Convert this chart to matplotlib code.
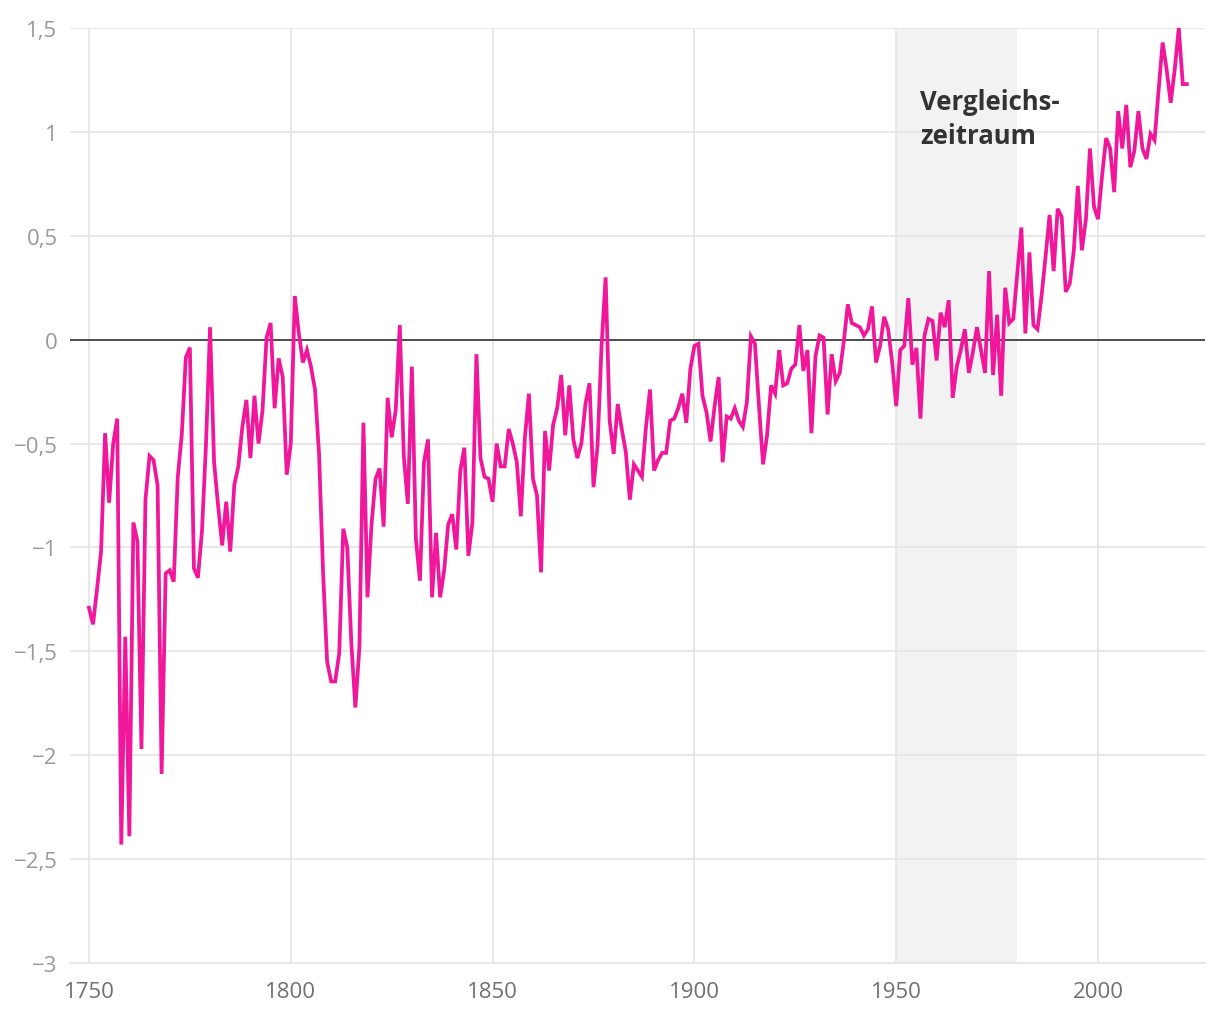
import matplotlib
matplotlib.use("Agg")
import matplotlib.pyplot as plt
import numpy as np

plt.rcParams['font.family'] = ['Open Sans', 'DejaVu Sans']

years = np.arange(1750, 2023)
anomaly = [
    -1.29, -1.37, -1.20, -1.02, -0.45, -0.785, -0.50, -0.38, -2.43, -1.43,   # 1750
    -2.39, -0.88, -0.97, -1.97, -0.77, -0.56, -0.58, -0.70, -2.09, -1.125,   # 1760
    -1.11, -1.165, -0.66, -0.455, -0.086, -0.038, -1.10, -1.146, -0.92, -0.50,  # 1770
    0.06, -0.59, -0.80, -0.99, -0.78, -1.02, -0.70, -0.61, -0.42, -0.29,     # 1780
    -0.57, -0.27, -0.50, -0.34, 0.01, 0.08, -0.33, -0.09, -0.18, -0.65,      # 1790
    -0.50, 0.21, 0.03, -0.11, -0.05, -0.13, -0.24, -0.55, -1.12, -1.55,      # 1800
    -1.645, -1.645, -1.51, -0.91, -1.00, -1.46, -1.77, -1.48, -0.40, -1.24,  # 1810
    -0.89, -0.67, -0.62, -0.90, -0.28, -0.47, -0.34, 0.07, -0.56, -0.79,     # 1820
    -0.13, -0.96, -1.16, -0.59, -0.48, -1.24, -0.93, -1.24, -1.11, -0.89,    # 1830
    -0.84, -1.01, -0.63, -0.52, -1.04, -0.88, -0.07, -0.57, -0.66, -0.67,    # 1840
    -0.78, -0.50, -0.61, -0.61, -0.43, -0.50, -0.59, -0.85, -0.47, -0.26,    # 1850
    -0.67, -0.75, -1.12, -0.44, -0.63, -0.41, -0.33, -0.17, -0.46, -0.22,    # 1860
    -0.48, -0.57, -0.50, -0.31, -0.21, -0.71, -0.51, -0.03, 0.30, -0.39,     # 1870
    -0.55, -0.31, -0.43, -0.54, -0.77, -0.60, -0.63, -0.66, -0.42, -0.24,    # 1880
    -0.63, -0.58, -0.545, -0.545, -0.39, -0.38, -0.33, -0.26, -0.40, -0.14,  # 1890
    -0.03, -0.02, -0.27, -0.35, -0.49, -0.32, -0.18, -0.59, -0.37, -0.38,    # 1900
    -0.33, -0.39, -0.42, -0.30, 0.016, -0.02, -0.32, -0.60, -0.46, -0.22,    # 1910
    -0.26, -0.05, -0.22, -0.21, -0.14, -0.12, 0.07, -0.15, -0.05, -0.45,     # 1920
    -0.08, 0.02, 0.01, -0.36, -0.07, -0.20, -0.16, -0.01, 0.17, 0.08,        # 1930
    0.07, 0.06, 0.02, 0.05, 0.16, -0.11, -0.03, 0.11, 0.05, -0.11,           # 1940
    -0.32, -0.05, -0.03, 0.20, -0.12, -0.04, -0.38, 0.02, 0.10, 0.09,        # 1950
    -0.10, 0.13, 0.06, 0.19, -0.28, -0.13, -0.05, 0.05, -0.16, -0.06,        # 1960
    0.06, -0.05, -0.16, 0.33, -0.17, 0.12, -0.27, 0.25, 0.08, 0.10,          # 1970
    0.32, 0.54, 0.03, 0.42, 0.07, 0.05, 0.21, 0.40, 0.60, 0.33,              # 1980
    0.63, 0.59, 0.23, 0.27, 0.43, 0.74, 0.43, 0.58, 0.92, 0.64,              # 1990
    0.58, 0.79, 0.97, 0.92, 0.71, 1.10, 0.92, 1.13, 0.83, 0.91,              # 2000
    1.10, 0.92, 0.87, 0.99, 0.96, 1.20, 1.43, 1.30, 1.14, 1.30,              # 2010
    1.50, 1.23, 1.23,                                                        # 2020
]

x_ticks = [1750, 1800, 1850, 1900, 1950, 2000]
y_ticks = [-3, -2.5, -2, -1.5, -1, -0.5, 0, 0.5, 1, 1.5]
ref_period = (1950, 1980)


def fmt_de(v):
    s = f'{v:g}'.replace('.', ',')
    return s.replace('-', '\u2212')


fig = plt.figure(figsize=(12.2, 10.2), dpi=100)
ax = fig.add_axes([70 / 1220, 1 - 964 / 1020, (1205 - 70) / 1220, (964 - 29) / 1020])

ax.axvspan(ref_period[0], ref_period[1], color='#f2f2f2', zorder=0, lw=0)
ax.axhline(0, color='#222222', lw=1.1, zorder=2)
ax.plot(years, anomaly, color='#f0179b', lw=2.7, zorder=3, clip_on=False,
        solid_joinstyle='miter')

ax.text(1955.9, 1.065, 'Vergleichs-\nzeitraum', fontsize=18.5, fontweight='bold',
        color='#333333', ha='left', va='center', linespacing=1.3, zorder=4)

ax.set_xlim(1745.3, 2026.5)
ax.set_ylim(-3, 1.5)
ax.set_xticks(x_ticks)
ax.set_yticks(y_ticks)
ax.set_yticklabels([fmt_de(v) for v in y_ticks])

ax.grid(True, color='#e6e6e6', lw=1.3, zorder=1)
ax.set_axisbelow(True)
for side in ['top', 'right', 'left']:
    ax.spines[side].set_visible(False)
ax.spines['bottom'].set_color('#e6e6e6')
ax.spines['bottom'].set_linewidth(1.3)

ax.tick_params(axis='x', length=0, pad=13, labelsize=16, labelcolor='#707070')
ax.tick_params(axis='y', length=0, pad=9, labelsize=16, labelcolor='#9a9a9a')

fig.savefig('out.png', dpi=100)
